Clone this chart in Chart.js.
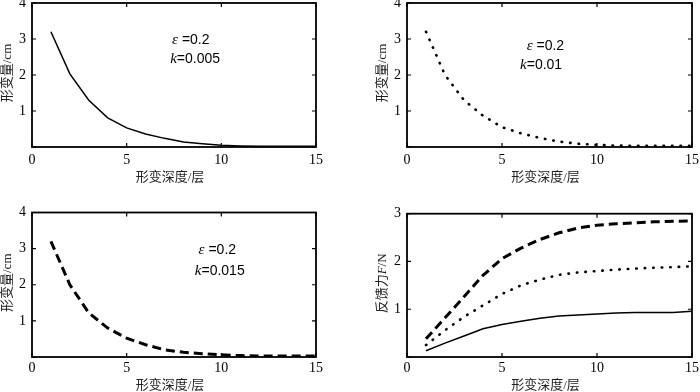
<!DOCTYPE html>
<html lang="zh-CN">
<head>
  <meta charset="UTF-8" />
  <title>形变量与反馈力</title>
  <script src="https://cdn.jsdelivr.net/npm/chart.js"></script>
  <style>
    body { margin: 0; background: #fff; }
    #wrap { position: relative; width: 700px; height: 392px; }
    .panel { position: absolute; width: 350px; height: 196px; }
  </style>
</head>
<body>
<div id="wrap">
  <div class="panel" style="left:0;top:0"><canvas id="c1" width="350" height="196"></canvas></div>
  <div class="panel" style="left:350px;top:0"><canvas id="c2" width="350" height="196"></canvas></div>
  <div class="panel" style="left:0;top:196px"><canvas id="c3" width="350" height="196"></canvas></div>
  <div class="panel" style="left:350px;top:196px"><canvas id="c4" width="350" height="196"></canvas></div>
</div>

<script>
  // 形变深度（层）
  const depth = [1, 2, 3, 4, 5, 6, 7, 8, 9, 10, 11, 12, 13, 14, 15];
  const xTicks = [0, 5, 10, 15];

  // 形变量 / cm
  const shapeK005 = [3.2, 2.03, 1.3, 0.81, 0.53, 0.36, 0.24, 0.14, 0.09, 0.05, 0.03, 0.02, 0.02, 0.02, 0.02];
  const shapeK01  = [3.2, 2.0, 1.3, 0.87, 0.55, 0.38, 0.25, 0.15, 0.09, 0.06, 0.04, 0.03, 0.03, 0.03, 0.03];
  const shapeK015 = [3.2, 2.0, 1.22, 0.8, 0.52, 0.34, 0.2, 0.13, 0.09, 0.06, 0.04, 0.03, 0.03, 0.03, 0.03];

  // 反馈力 F / N
  const forceK005 = [0.13, 0.29, 0.44, 0.59, 0.68, 0.75, 0.81, 0.86, 0.88, 0.9, 0.92, 0.93, 0.93, 0.93, 0.96];
  const forceK01  = [0.25, 0.56, 0.84, 1.08, 1.32, 1.5, 1.62, 1.72, 1.77, 1.8, 1.83, 1.85, 1.87, 1.88, 1.9];
  const forceK015 = [0.38, 0.82, 1.26, 1.71, 2.06, 2.28, 2.46, 2.6, 2.7, 2.76, 2.79, 2.81, 2.83, 2.84, 2.85];

  const cjkFont = '13px "Liberation Serif", "Noto Sans CJK SC"';
  const itFont = 'italic 15px "Liberation Serif"';
  const noteFont = '14px "Liberation Sans"';

  const styles = {
    solid:  { borderWidth: 1.5, borderDash: [] },
    dotted: { borderWidth: 2.6, borderDash: [0.5, 8], borderCapStyle: 'round' },
    dashed: { borderWidth: 3, borderDash: [9, 5], borderCapStyle: 'butt' }
  };

  function drawSegs(ctx, segs, x, y, align) {
    let w = 0;
    segs.forEach(s => { ctx.font = s.font; w += ctx.measureText(s.text).width; });
    let cx = align === 'center' ? x - w / 2 : x;
    ctx.textAlign = 'left';
    ctx.textBaseline = 'middle';
    segs.forEach(s => {
      ctx.font = s.font;
      ctx.fillText(s.text, cx, y);
      cx += ctx.measureText(s.text).width;
    });
  }

  // MATLAB 风格边框、内刻度、标题和注释
  const frame = {
    id: 'frame',
    afterDraw(chart, args, opts) {
      const { ctx, chartArea: a, scales: { x, y } } = chart;
      ctx.save();
      ctx.strokeStyle = '#000';
      ctx.lineWidth = 1.8;
      ctx.strokeRect(a.left, a.top, a.right - a.left, a.bottom - a.top);
      ctx.lineWidth = 1.2;
      ctx.beginPath();
      x.ticks.forEach(t => {
        const px = x.getPixelForValue(t.value);
        ctx.moveTo(px, a.bottom); ctx.lineTo(px, a.bottom - 4);
        ctx.moveTo(px, a.top); ctx.lineTo(px, a.top + 4);
      });
      y.ticks.forEach(t => {
        const py = y.getPixelForValue(t.value);
        ctx.moveTo(a.left, py); ctx.lineTo(a.left + 4, py);
        ctx.moveTo(a.right, py); ctx.lineTo(a.right - 4, py);
      });
      ctx.stroke();

      ctx.fillStyle = '#222';
      drawSegs(ctx, [{ text: '形变深度/层', font: cjkFont }],
        (a.left + a.right) / 2 - 4, a.bottom + opts.xTitleGap, 'center');

      ctx.save();
      ctx.translate(a.left - 24, (a.top + a.bottom) / 2 - 2);
      ctx.rotate(-Math.PI / 2);
      drawSegs(ctx, opts.yTitle, 0, 0, 'center');
      ctx.restore();

      ctx.fillStyle = '#000';
      (opts.notes || []).forEach(n => {
        drawSegs(ctx, n.segs, x.getPixelForValue(n.x), y.getPixelForValue(n.y), 'left');
      });
      ctx.restore();
    }
  };

  const yTitleShape = [{ text: '形变量/cm', font: cjkFont }];
  const yTitleForce = [
    { text: '反馈力', font: cjkFont },
    { text: 'F', font: 'italic 13px "Liberation Serif"' },
    { text: '/N', font: cjkFont }
  ];

  function noteLines(kText, ex, ey, kx, ky) {
    return [
      { x: ex, y: ey, segs: [{ text: 'ε', font: itFont }, { text: ' =0.2', font: noteFont }] },
      { x: kx, y: ky, segs: [{ text: 'k', font: itFont }, { text: '=' + kText, font: noteFont }] }
    ];
  }

  function makePanel(id, p) {
    const tickFont = { family: 'Liberation Serif', size: 14 };
    new Chart(document.getElementById(id), {
      type: 'line',
      data: {
        datasets: p.series.map(s => Object.assign({
          data: s.values.map((v, i) => ({ x: depth[i], y: v })),
          borderColor: '#000',
          pointRadius: 0,
          tension: 0,
          fill: false
        }, styles[s.style]))
      },
      options: {
        responsive: false,
        animation: false,
        devicePixelRatio: 1,
        layout: { padding: { left: 0, top: p.top, right: p.right, bottom: 0 } },
        plugins: {
          legend: { display: false },
          tooltip: { enabled: false },
          frame: { yTitle: p.yTitle, notes: p.notes, xTitleGap: p.xTitleGap }
        },
        scales: {
          x: {
            type: 'linear', min: 0, max: 15,
            afterBuildTicks: s => { s.ticks = xTicks.map(v => ({ value: v })); },
            ticks: { font: tickFont, color: '#000', padding: p.xTickPad, maxRotation: 0 },
            grid: { display: false, drawTicks: false },
            border: { display: false },
            afterFit: s => { s.height = p.H; s.paddingLeft = 0; s.paddingRight = 0; }
          },
          y: {
            min: 0, max: p.yMax,
            ticks: { stepSize: 1, font: tickFont, color: '#000', padding: 6,
                     callback: v => (v === 0 ? '' : v) },
            grid: { display: false, drawTicks: false },
            border: { display: false },
            afterFit: s => { s.width = p.L; s.paddingTop = 0; s.paddingBottom = 0; }
          }
        }
      },
      plugins: [frame]
    });
  }

  makePanel('c1', {
    series: [{ values: shapeK005, style: 'solid' }],
    yMax: 4, top: 3, right: 34, L: 32, H: 49, xTickPad: 5, xTitleGap: 31,
    yTitle: yTitleShape, notes: noteLines('0.005', 7.4, 2.97, 7.3, 2.44)
  });
  makePanel('c2', {
    series: [{ values: shapeK01, style: 'dotted' }],
    yMax: 4, top: 3, right: 8, L: 57, H: 49, xTickPad: 5, xTitleGap: 31,
    yTitle: yTitleShape, notes: noteLines('0.01', 6.3, 2.8, 5.95, 2.28)
  });
  makePanel('c3', {
    series: [{ values: shapeK015, style: 'dashed' }],
    yMax: 4, top: 16.5, right: 34, L: 32, H: 35, xTickPad: 3, xTitleGap: 29,
    yTitle: yTitleShape, notes: noteLines('0.015', 8.8, 2.96, 8.6, 2.38)
  });
  makePanel('c4', {
    series: [
      { values: forceK005, style: 'solid' },
      { values: forceK01, style: 'dotted' },
      { values: forceK015, style: 'dashed' }
    ],
    yMax: 3, top: 17.7, right: 8, L: 57, H: 35, xTickPad: 3, xTitleGap: 29,
    yTitle: yTitleForce, notes: []
  });
</script>
</body>
</html>
